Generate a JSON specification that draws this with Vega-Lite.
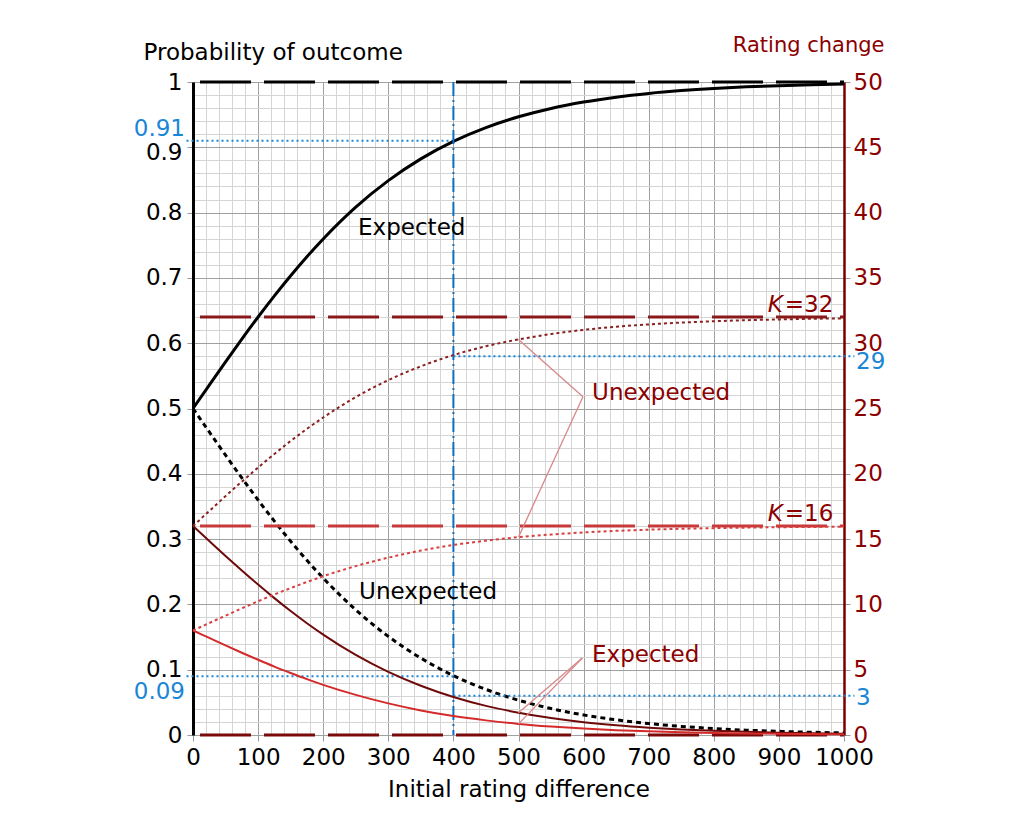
{
  "$schema": "https://vega.github.io/schema/vega-lite/v6.json",
  "autosize": "none",
  "width": 651,
  "height": 653,
  "padding": {"left": 193, "top": 82, "right": 180, "bottom": 101},
  "background": "white",
  "config": {
    "font": "DejaVu Sans",
    "view": {"stroke": null},
    "text": {"font": "DejaVu Sans", "fontSize": 23}
  },
  "datasets": {
    "curve": [
      {"d": 0, "exp": 0.5, "unexp": 0.5, "k32u": 16, "k32e": 16, "k16u": 8, "k16e": 8},
      {"d": 25, "exp": 0.5359, "unexp": 0.4641, "k32u": 17.15, "k32e": 14.85, "k16u": 8.57, "k16e": 7.43},
      {"d": 50, "exp": 0.5715, "unexp": 0.4285, "k32u": 18.29, "k32e": 13.71, "k16u": 9.14, "k16e": 6.86},
      {"d": 75, "exp": 0.6063, "unexp": 0.3937, "k32u": 19.4, "k32e": 12.6, "k16u": 9.7, "k16e": 6.3},
      {"d": 100, "exp": 0.6401, "unexp": 0.3599, "k32u": 20.48, "k32e": 11.52, "k16u": 10.24, "k16e": 5.76},
      {"d": 125, "exp": 0.6725, "unexp": 0.3275, "k32u": 21.52, "k32e": 10.48, "k16u": 10.76, "k16e": 5.24},
      {"d": 150, "exp": 0.7034, "unexp": 0.2966, "k32u": 22.51, "k32e": 9.49, "k16u": 11.25, "k16e": 4.75},
      {"d": 175, "exp": 0.7325, "unexp": 0.2675, "k32u": 23.44, "k32e": 8.56, "k16u": 11.72, "k16e": 4.28},
      {"d": 200, "exp": 0.7597, "unexp": 0.2403, "k32u": 24.31, "k32e": 7.69, "k16u": 12.16, "k16e": 3.84},
      {"d": 250, "exp": 0.8084, "unexp": 0.1916, "k32u": 25.87, "k32e": 6.13, "k16u": 12.93, "k16e": 3.07},
      {"d": 300, "exp": 0.849, "unexp": 0.151, "k32u": 27.17, "k32e": 4.83, "k16u": 13.58, "k16e": 2.42},
      {"d": 350, "exp": 0.8823, "unexp": 0.1177, "k32u": 28.23, "k32e": 3.77, "k16u": 14.12, "k16e": 1.88},
      {"d": 400, "exp": 0.9091, "unexp": 0.0909, "k32u": 29.09, "k32e": 2.91, "k16u": 14.55, "k16e": 1.45},
      {"d": 450, "exp": 0.9302, "unexp": 0.0698, "k32u": 29.77, "k32e": 2.23, "k16u": 14.88, "k16e": 1.12},
      {"d": 500, "exp": 0.9467, "unexp": 0.0533, "k32u": 30.29, "k32e": 1.71, "k16u": 15.15, "k16e": 0.85},
      {"d": 550, "exp": 0.9595, "unexp": 0.0405, "k32u": 30.7, "k32e": 1.3, "k16u": 15.35, "k16e": 0.65},
      {"d": 600, "exp": 0.9693, "unexp": 0.0307, "k32u": 31.02, "k32e": 0.98, "k16u": 15.51, "k16e": 0.49},
      {"d": 650, "exp": 0.9768, "unexp": 0.0232, "k32u": 31.26, "k32e": 0.74, "k16u": 15.63, "k16e": 0.37},
      {"d": 700, "exp": 0.9825, "unexp": 0.0175, "k32u": 31.44, "k32e": 0.56, "k16u": 15.72, "k16e": 0.28},
      {"d": 750, "exp": 0.9868, "unexp": 0.0132, "k32u": 31.58, "k32e": 0.42, "k16u": 15.79, "k16e": 0.21},
      {"d": 800, "exp": 0.9901, "unexp": 0.0099, "k32u": 31.68, "k32e": 0.32, "k16u": 15.84, "k16e": 0.16},
      {"d": 850, "exp": 0.9926, "unexp": 0.0074, "k32u": 31.76, "k32e": 0.24, "k16u": 15.88, "k16e": 0.12},
      {"d": 900, "exp": 0.9944, "unexp": 0.0056, "k32u": 31.82, "k32e": 0.18, "k16u": 15.91, "k16e": 0.09},
      {"d": 950, "exp": 0.9958, "unexp": 0.0042, "k32u": 31.87, "k32e": 0.13, "k16u": 15.93, "k16e": 0.07},
      {"d": 1000, "exp": 0.9968, "unexp": 0.0032, "k32u": 31.9, "k32e": 0.1, "k16u": 15.95, "k16e": 0.05}
    ]
  },
  "layer": [
    {
      "layer": [
        {
          "data": {"values": [{"d": 0, "d2": 1000, "p": 1}]},
          "mark": {"type": "rule", "color": "black", "strokeWidth": 3, "strokeDash": [51, 13], "strokeDashOffset": 57},
          "encoding": {
            "x": {
              "field": "d", "type": "quantitative",
              "scale": {"domain": [0, 1000], "nice": false, "zero": false},
              "axis": {
                "title": "Initial rating difference",
                "titleFontSize": 23, "titleFontWeight": "normal", "titleColor": "black", "titlePadding": 9,
                "values": [0,20,40,60,80,100,120,140,160,180,200,220,240,260,280,300,320,340,360,380,400,420,440,460,480,500,520,540,560,580,600,620,640,660,680,700,720,740,760,780,800,820,840,860,880,900,920,940,960,980,1000],
                "tickCount": 200,
                "format": "d",
                "labelExpr": "datum.value % 100 === 0 ? datum.label : ''",
                "labelFontSize": 23, "labelColor": "black", "labelPadding": 5, "labelFlush": false, "labelOverlap": false,
                "domain": false,
                "tickSize": 6,
                "tickColor": "#999999",
                "tickOpacity": {"condition": {"test": "datum.value % 100 === 0", "value": 1}, "value": 0},
                "grid": true,
                "gridColor": {"condition": {"test": "datum.value % 100 === 0", "value": "#a0a0a0"}, "value": "#d4d4d4"},
                "gridWidth": 1
              }
            },
            "x2": {"field": "d2"},
            "y": {
              "field": "p", "type": "quantitative",
              "scale": {"domain": [0, 1], "nice": false, "zero": false},
              "axis": {
                "orient": "left",
                "title": "Probability of outcome",
                "titleAngle": 0, "titleAlign": "left", "titleBaseline": "middle",
                "titleX": -50, "titleY": -30,
                "titleFontSize": 23, "titleFontWeight": "normal", "titleColor": "black",
                "values": [0,0.02,0.04,0.06,0.08,0.1,0.12,0.14,0.16,0.18,0.2,0.22,0.24,0.26,0.28,0.3,0.32,0.34,0.36,0.38,0.4,0.42,0.44,0.46,0.48,0.5,0.52,0.54,0.56,0.58,0.6,0.62,0.64,0.66,0.68,0.7,0.72,0.74,0.76,0.78,0.8,0.82,0.84,0.86,0.88,0.9,0.92,0.94,0.96,0.98,1],
                "tickCount": 200,
                "labelExpr": "round(datum.value*100) % 10 === 0 ? format(datum.value, '~g') : ''",
                "labelFontSize": 23, "labelColor": "black", "labelPadding": 5, "labelFlush": false, "labelOverlap": false,
                "labelOffset": {"condition": {"test": "abs(datum.value - 0.9) < 0.001", "value": 5}, "value": 0},
                "domain": true, "domainColor": "black", "domainWidth": 3,
                "tickSize": 6, "tickColor": "#999999",
                "tickOpacity": {"condition": {"test": "round(datum.value*100) % 10 === 0", "value": 1}, "value": 0},
                "grid": true,
                "gridColor": {"condition": {"test": "round(datum.value*100) % 10 === 0", "value": "#a0a0a0"}, "value": "#d4d4d4"},
                "gridWidth": 1
              }
            }
          }
        },
        {
          "data": {"values": [{"d": -10, "d2": 400, "p": 0.91}, {"d": -10, "d2": 400, "p": 0.09}]},
          "mark": {"type": "rule", "color": "#1a86d6", "strokeWidth": 2, "strokeDash": [2, 3]},
          "encoding": {
            "x": {"field": "d", "type": "quantitative"},
            "x2": {"field": "d2"},
            "y": {"field": "p", "type": "quantitative"}
          }
        },
        {
          "data": {"name": "curve"},
          "mark": {"type": "line", "color": "black", "strokeWidth": 3, "interpolate": "monotone"},
          "encoding": {
            "x": {"field": "d", "type": "quantitative"},
            "y": {"field": "exp", "type": "quantitative"}
          }
        },
        {
          "data": {"name": "curve"},
          "mark": {"type": "line", "color": "black", "strokeWidth": 3, "strokeDash": [5, 4], "interpolate": "monotone"},
          "encoding": {
            "x": {"field": "d", "type": "quantitative"},
            "y": {"field": "unexp", "type": "quantitative"}
          }
        },
        {
          "data": {"values": [{"d": 400}]},
          "mark": {"type": "rule", "color": "#0b6fc0", "strokeWidth": 2, "strokeDash": [14, 4, 2, 4]},
          "encoding": {
            "x": {"field": "d", "type": "quantitative"}
          }
        },
        {
          "data": {"values": [{"d": 336, "p": 0.776, "t": "Expected"}, {"d": 361, "p": 0.219, "t": "Unexpected"}]},
          "mark": {"type": "text", "color": "black", "fontSize": 23, "align": "center", "baseline": "middle"},
          "encoding": {
            "x": {"field": "d", "type": "quantitative"},
            "y": {"field": "p", "type": "quantitative"},
            "text": {"field": "t"}
          }
        },
        {
          "data": {"values": [{"d": 0, "p": 0.91, "t": "0.91"}]},
          "mark": {"type": "text", "color": "#1a86d6", "fontSize": 23, "align": "right", "baseline": "middle", "dx": -8, "dy": -12},
          "encoding": {
            "x": {"field": "d", "type": "quantitative"},
            "y": {"field": "p", "type": "quantitative"},
            "text": {"field": "t"}
          }
        },
        {
          "data": {"values": [{"d": 0, "p": 0.09, "t": "0.09"}]},
          "mark": {"type": "text", "color": "#1a86d6", "fontSize": 23, "align": "right", "baseline": "middle", "dx": -8, "dy": 16},
          "encoding": {
            "x": {"field": "d", "type": "quantitative"},
            "y": {"field": "p", "type": "quantitative"},
            "text": {"field": "t"}
          }
        }
      ]
    },
    {
      "layer": [
        {
          "data": {"values": [{"d": 0, "d2": 1000, "r": 0, "c": "z"}, {"d": 0, "d2": 1000, "r": 32, "c": "k32"}, {"d": 0, "d2": 1000, "r": 16, "c": "k16"}]},
          "mark": {"type": "rule", "strokeWidth": 3, "strokeDash": [51, 13], "strokeDashOffset": 57},
          "encoding": {
            "x": {"field": "d", "type": "quantitative"},
            "x2": {"field": "d2"},
            "y": {
              "field": "r", "type": "quantitative",
              "scale": {"domain": [0, 50], "nice": false, "zero": false},
              "axis": {
                "orient": "right",
                "title": "Rating change",
                "titleAngle": 0, "titleAlign": "right", "titleBaseline": "middle",
                "titleX": 40, "titleY": -37,
                "titleFontSize": 21, "titleFontWeight": "normal", "titleColor": "#8b0000",
                "values": [0,5,10,15,20,25,30,35,40,45,50],
                "tickCount": 50,
                "labelFontSize": 23, "labelColor": "#8b0000", "labelPadding": 3, "labelFlush": false, "labelOverlap": false,
                "domain": true, "domainColor": "#7a0000", "domainWidth": 2.5,
                "tickSize": 6, "tickColor": "#999999",
                "grid": false
              }
            },
            "color": {
              "field": "c", "type": "nominal",
              "scale": {"domain": ["z", "k32", "k16"], "range": ["#7a0a0a", "#8a1a1a", "#c83a3a"]},
              "legend": null
            }
          }
        },
        {
          "data": {"values": [{"d": 400, "d2": 1016, "r": 29}, {"d": 400, "d2": 1016, "r": 3}]},
          "mark": {"type": "rule", "color": "#1a86d6", "strokeWidth": 2, "strokeDash": [2, 3]},
          "encoding": {
            "x": {"field": "d", "type": "quantitative"},
            "x2": {"field": "d2"},
            "y": {"field": "r", "type": "quantitative"}
          }
        },
        {
          "data": {"name": "curve"},
          "mark": {"type": "line", "color": "#6e0a0a", "strokeWidth": 2, "interpolate": "monotone"},
          "encoding": {
            "x": {"field": "d", "type": "quantitative"},
            "y": {"field": "k32e", "type": "quantitative"}
          }
        },
        {
          "data": {"name": "curve"},
          "mark": {"type": "line", "color": "#8a2020", "strokeWidth": 2, "strokeDash": [3, 3], "interpolate": "monotone"},
          "encoding": {
            "x": {"field": "d", "type": "quantitative"},
            "y": {"field": "k32u", "type": "quantitative"}
          }
        },
        {
          "data": {"name": "curve"},
          "mark": {"type": "line", "color": "#d42a2a", "strokeWidth": 2, "interpolate": "monotone"},
          "encoding": {
            "x": {"field": "d", "type": "quantitative"},
            "y": {"field": "k16e", "type": "quantitative"}
          }
        },
        {
          "data": {"name": "curve"},
          "mark": {"type": "line", "color": "#d84040", "strokeWidth": 2, "strokeDash": [3, 3], "interpolate": "monotone"},
          "encoding": {
            "x": {"field": "d", "type": "quantitative"},
            "y": {"field": "k16u", "type": "quantitative"}
          }
        },
        {
          "data": {"values": [
            {"d": 500, "r": 30.29, "d2": 599, "r2": 25.9},
            {"d": 500, "r": 15.15, "d2": 599, "r2": 25.9},
            {"d": 500, "r": 1.71, "d2": 598, "r2": 5.9},
            {"d": 500, "r": 0.85, "d2": 598, "r2": 5.9}
          ]},
          "mark": {"type": "rule", "color": "#d98888", "strokeWidth": 1.3},
          "encoding": {
            "x": {"field": "d", "type": "quantitative"},
            "x2": {"field": "d2"},
            "y": {"field": "r", "type": "quantitative"},
            "y2": {"field": "r2"}
          }
        },
        {
          "data": {"values": [{"d": 613, "r": 26.2, "t": "Unexpected"}, {"d": 613, "r": 6.1, "t": "Expected"}]},
          "mark": {"type": "text", "color": "#8b0000", "fontSize": 23, "align": "left", "baseline": "middle"},
          "encoding": {
            "x": {"field": "d", "type": "quantitative"},
            "y": {"field": "r", "type": "quantitative"},
            "text": {"field": "t"}
          }
        },
        {
          "data": {"values": [{"d": 903, "r": 32.4, "t": "K"}, {"d": 903, "r": 16.4, "t": "K"}]},
          "mark": {"type": "text", "color": "#8b0000", "fontSize": 23, "fontStyle": "italic", "align": "right", "baseline": "alphabetic", "dx": 2},
          "encoding": {
            "x": {"field": "d", "type": "quantitative"},
            "y": {"field": "r", "type": "quantitative"},
            "text": {"field": "t"}
          }
        },
        {
          "data": {"values": [{"d": 903, "r": 32.4, "t": "=32"}, {"d": 903, "r": 16.4, "t": "=16"}]},
          "mark": {"type": "text", "color": "#8b0000", "fontSize": 23, "align": "left", "baseline": "alphabetic", "dx": 4},
          "encoding": {
            "x": {"field": "d", "type": "quantitative"},
            "y": {"field": "r", "type": "quantitative"},
            "text": {"field": "t"}
          }
        },
        {
          "data": {"values": [{"d": 1000, "r": 29, "t": "29"}]},
          "mark": {"type": "text", "color": "#1a86d6", "fontSize": 23, "align": "left", "baseline": "middle", "dx": 12, "dy": 6},
          "encoding": {
            "x": {"field": "d", "type": "quantitative"},
            "y": {"field": "r", "type": "quantitative"},
            "text": {"field": "t"}
          }
        },
        {
          "data": {"values": [{"d": 1000, "r": 3, "t": "3"}]},
          "mark": {"type": "text", "color": "#1a86d6", "fontSize": 23, "align": "left", "baseline": "middle", "dx": 12, "dy": 2},
          "encoding": {
            "x": {"field": "d", "type": "quantitative"},
            "y": {"field": "r", "type": "quantitative"},
            "text": {"field": "t"}
          }
        }
      ]
    }
  ],
  "resolve": {"scale": {"y": "independent", "color": "independent"}, "axis": {"y": "independent"}}
}
